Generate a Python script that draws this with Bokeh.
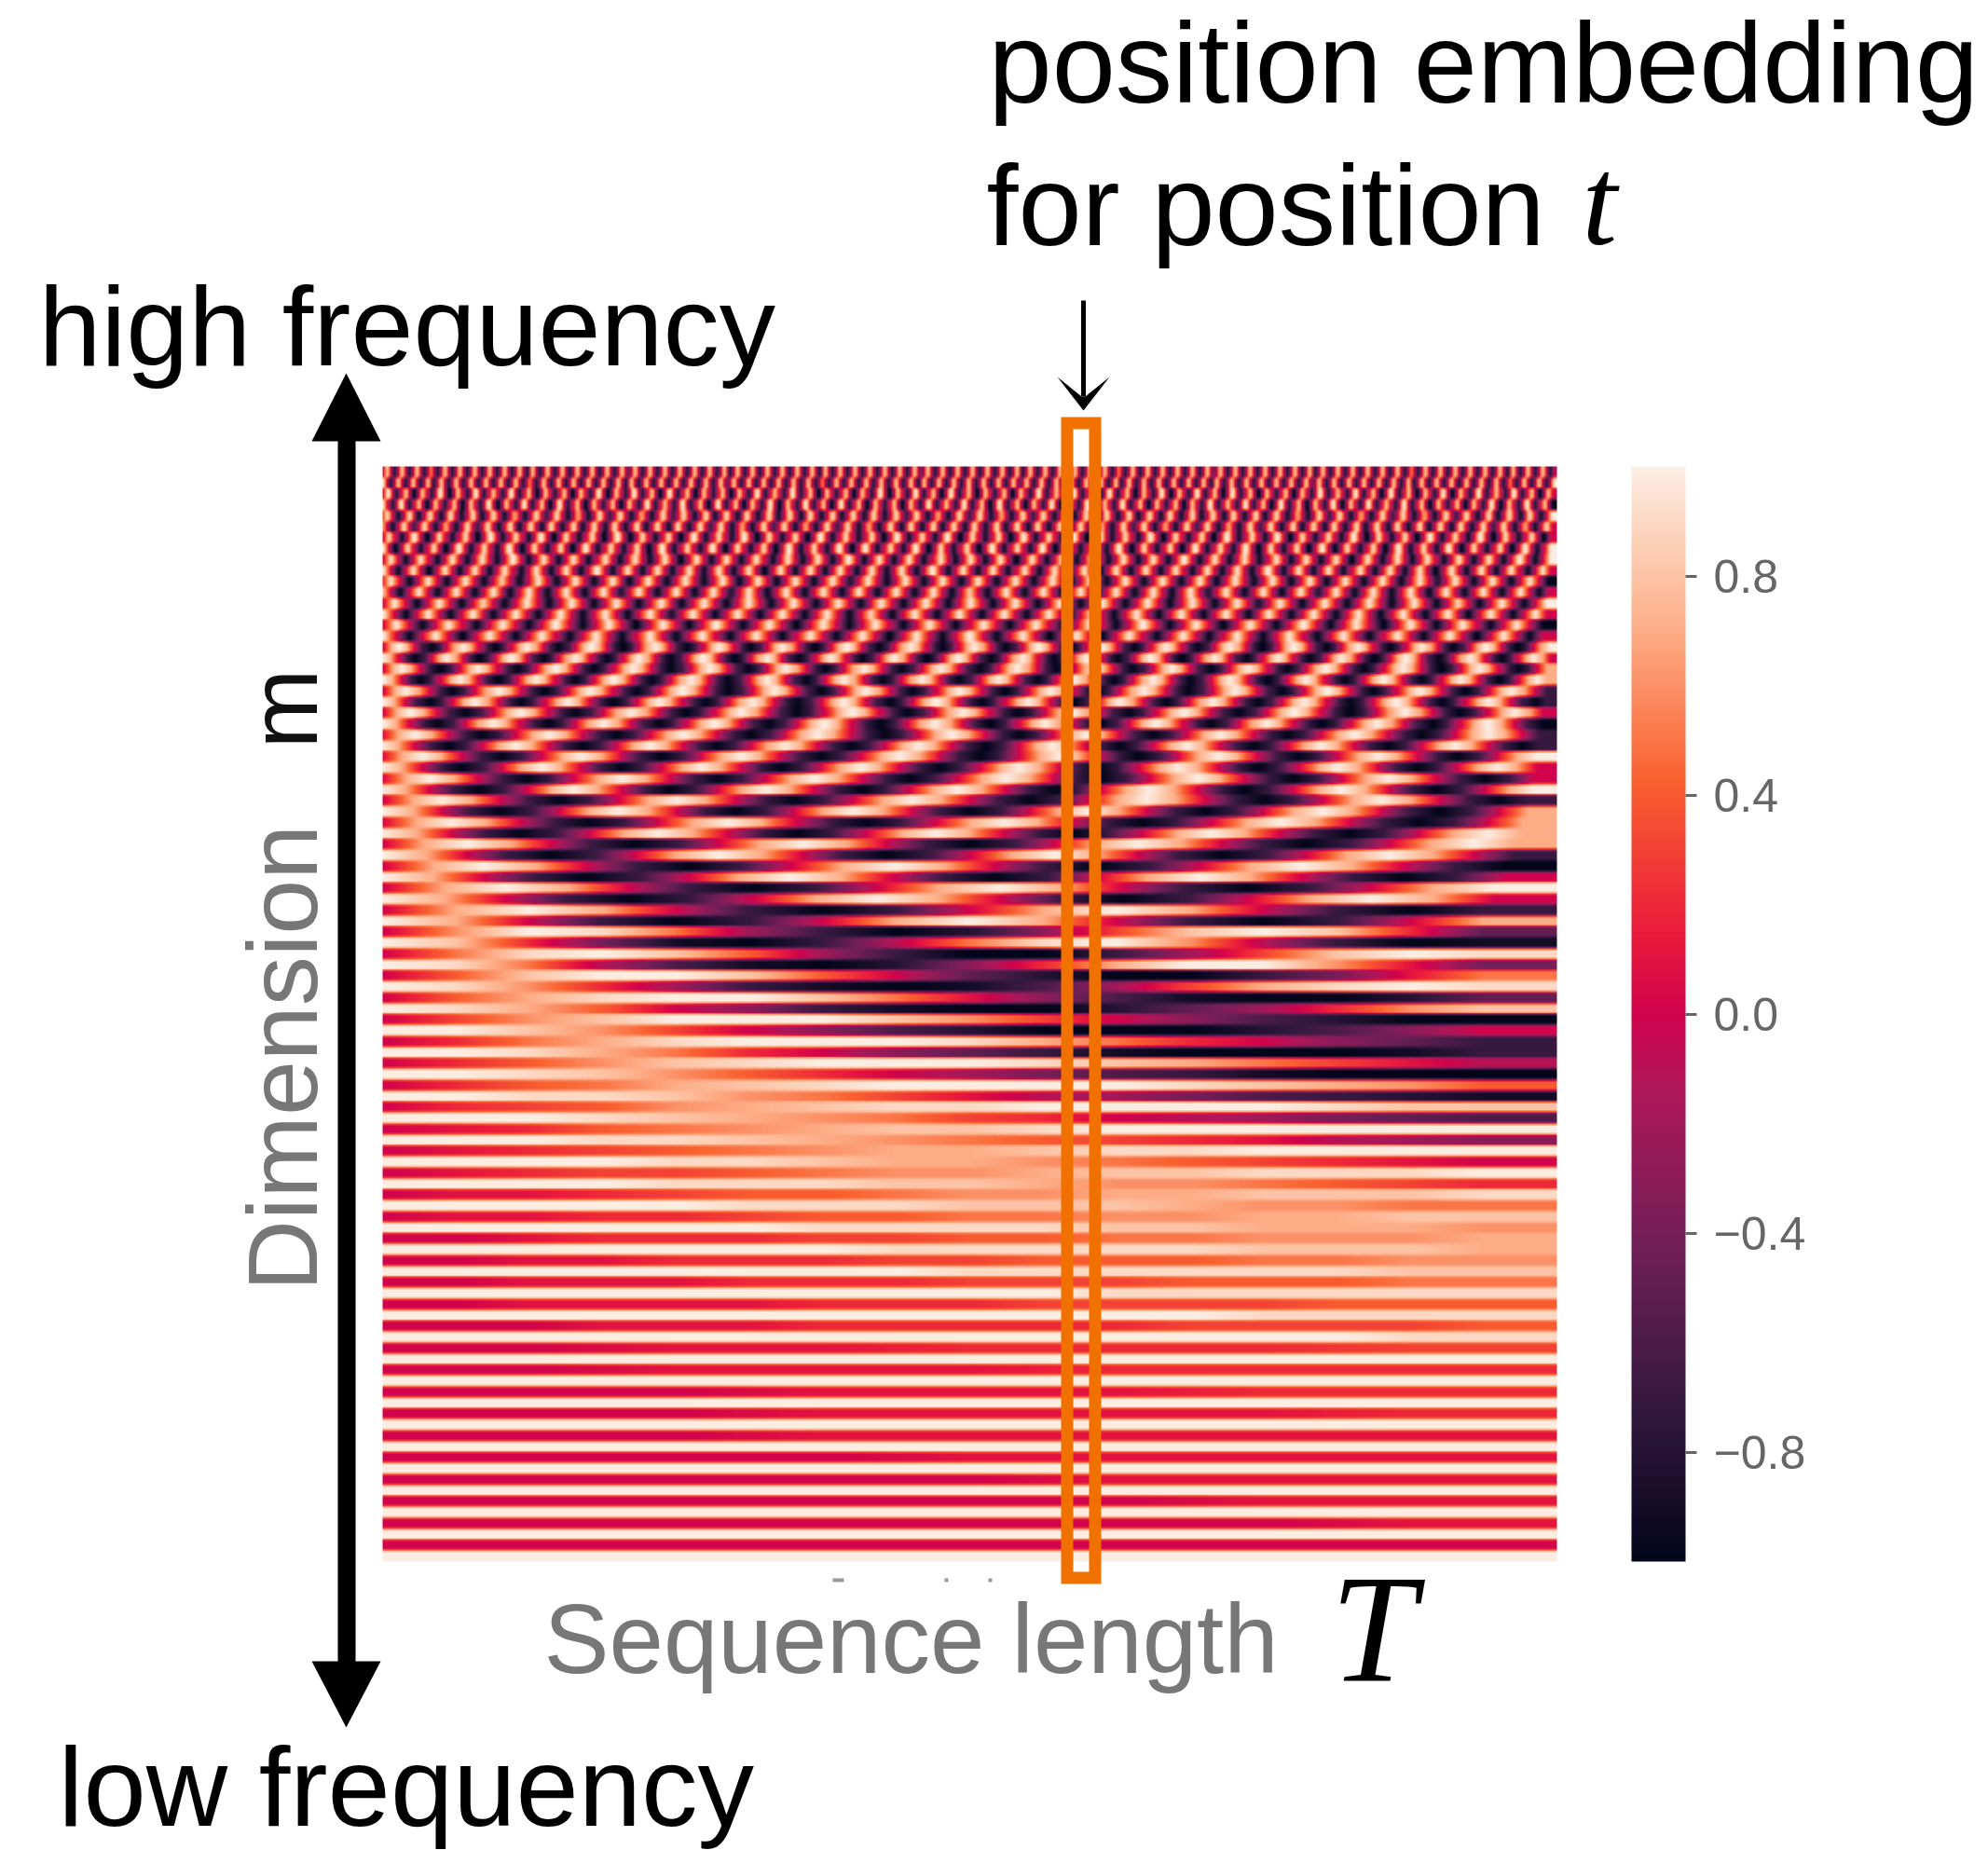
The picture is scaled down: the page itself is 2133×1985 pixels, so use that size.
import numpy as np
from bokeh.core.properties import value
from bokeh.embed import file_html
from bokeh.models import ColorBar, FixedTicker, LinearColorMapper, Range1d
from bokeh.plotting import figure
from bokeh.resources import INLINE

# Heatmap rows, top to bottom, typed by hand as an estimate of the picture.
# One character per cell, -1.0 ("0") to +1.0 ("k") in steps of 0.1; "a" is 0.0.
# Each row has as many cells as its pattern needs.
LEVELS = "0123456789abcdefghijk"

HIGH_ROWS = [
    ("aka0aka0aka0aka0aka0aka0aka0aka0aka0aka0" "aka0aka0aka0aka0aka0aka0aka0aka0aka0aka0"
     "aka0aka0aka0aka0aka0aka0aka0aka0aka0aka0" "aka0aka0aka0aka0aka0aka0aka0aka0aka0aka0"
     "aka0aka0aka0aka0aka0aka0aka0aka0aka0aka0" "aka0aka0aka0aka0aka0aka0aka0aka0aka0aka0"
     "aka0aka0aka0aka0aka0aka0aka0aka0aka0aka0" "aka0aka0aka0aka0aka0aka0aka0aka0aka0aka0" "a"),
    ("ka0aka0aka0aka0aka0aka0aka0aka0aka0aka0a" "ka0aka0aka0aka0aka0aka0aka0aka0aka0aka0a"
     "ka0aka0aka0aka0aka0aka0aka0aka0aka0aka0a" "ka0aka0aka0aka0aka0aka0aka0aka0aka0aka0a"
     "ka0aka0aka0aka0aka0aka0aka0aka0aka0aka0a" "ka0aka0aka0aka0aka0aka0aka0aka0aka0aka0a"
     "ka0aka0aka0aka0aka0aka0aka0aka0aka0aka0a" "ka0aka0aka0aka0aka0aka0aka0aka0aka0aka0a" "k"),
    ("aka0aka0aka0aka0aka0aka0aka0aka0aka0aka0" "aka0aka0aka0aka0aka0aka0aka0aka0aka0aka0"
     "aka0aka0aka0aka0aka0aka0aka0aka0aka0aka0" "aka0aka0aka0aka0aka0aka0aka0aka0aka0aka0"
     "aka0aka0aka0aka0aka0aka0aka0aka0aka0aka0" "aka0aka0aka0aka0aka0aka0aka0aka0aka0aka0"
     "aka0aka0aka0aka0aka0aka0" "aka"),
    ("ka0aka0aka0aka0aka0aka0aka0aka0aka0aka0a" "ka0aka0aka0aka0aka0aka0aka0aka0aka0aka0a"
     "ka0aka0aka0aka0aka0aka0aka0aka0aka0aka0a" "ka0aka0aka0aka0aka0aka0aka0aka0aka0aka0a"
     "ka0aka0aka0aka0aka0aka0aka0aka0aka0aka0a" "ka0aka0aka0aka0aka0aka0aka0aka0aka0aka0a"
     "ka0aka0aka0aka0aka0aka0a" "ka0"),
    ("aka0aka0aka0aka0aka0aka0aka0aka0aka0aka0" "aka0aka0aka0aka0aka0aka0aka0aka0aka0aka0"
     "aka0aka0aka0aka0aka0aka0aka0aka0aka0aka0" "aka0aka0aka0aka0aka0aka0aka0aka0aka0aka0"
     "aka0aka0aka0aka0aka0aka0aka0aka0aka0aka0" "aka0aka0aka0aka0aka0" "ak"),
    ("ka0aka0aka0aka0aka0aka0aka0aka0aka0aka0a" "ka0aka0aka0aka0aka0aka0aka0aka0aka0aka0a"
     "ka0aka0aka0aka0aka0aka0aka0aka0aka0aka0a" "ka0aka0aka0aka0aka0aka0aka0aka0aka0aka0a"
     "ka0aka0aka0aka0aka0aka0aka0aka0aka0aka0a" "ka0aka0aka0aka0aka0a" "ka"),
    ("aka0aka0aka0aka0aka0aka0aka0aka0aka0aka0" "aka0aka0aka0aka0aka0aka0aka0aka0aka0aka0"
     "aka0aka0aka0aka0aka0aka0aka0aka0aka0aka0" "aka0aka0aka0aka0aka0aka0aka0aka0aka0aka0"
     "aka0aka0aka0aka0aka0aka0" "a"),
    ("ka0aka0aka0aka0aka0aka0aka0aka0aka0aka0a" "ka0aka0aka0aka0aka0aka0aka0aka0aka0aka0a"
     "ka0aka0aka0aka0aka0aka0aka0aka0aka0aka0a" "ka0aka0aka0aka0aka0aka0aka0aka0aka0aka0a"
     "ka0aka0aka0aka0aka0aka0a" "k"),
    ("aka0aka0aka0aka0aka0aka0aka0aka0aka0aka0" "aka0aka0aka0aka0aka0aka0aka0aka0aka0aka0"
     "aka0aka0aka0aka0aka0aka0aka0aka0aka0aka0" "aka0aka0aka0aka0aka0aka0aka0aka0" "ak"),
    ("ka0aka0aka0aka0aka0aka0aka0aka0aka0aka0a" "ka0aka0aka0aka0aka0aka0aka0aka0aka0aka0a"
     "ka0aka0aka0aka0aka0aka0aka0aka0aka0aka0a" "ka0aka0aka0aka0aka0aka0aka0aka0a" "ka"),
    ("aka0aka0aka0aka0aka0aka0aka0aka0aka0aka0" "aka0aka0aka0aka0aka0aka0aka0aka0aka0aka0"
     "aka0aka0aka0aka0aka0aka0aka0aka0aka0aka0" "aka0aka0"),
    ("ka0aka0aka0aka0aka0aka0aka0aka0aka0aka0a" "ka0aka0aka0aka0aka0aka0aka0aka0aka0aka0a"
     "ka0aka0aka0aka0aka0aka0aka0aka0aka0aka0a" "ka0aka0a"),
    ("aka0aka0aka0aka0aka0aka0aka0aka0aka0aka0" "aka0aka0aka0aka0aka0aka0aka0aka0aka0aka0"
     "aka0aka0aka0aka0aka0aka0" "ak"),
    ("ka0aka0aka0aka0aka0aka0aka0aka0aka0aka0a" "ka0aka0aka0aka0aka0aka0aka0aka0aka0aka0a"
     "ka0aka0aka0aka0aka0aka0a" "ka"),
    ("aka0aka0aka0aka0aka0aka0aka0aka0aka0aka0" "aka0aka0aka0aka0aka0aka0aka0aka0aka0aka0" "aka0aka0"),
    ("ka0aka0aka0aka0aka0aka0aka0aka0aka0aka0a" "ka0aka0aka0aka0aka0aka0aka0aka0aka0aka0a" "ka0aka0a"),
]

MID_ROWS = [
    ("ahkha303ahkha303ahkha303ahkha303ahkha303ahkha303" "ahkha303ahkha303ahkha303ahkha303ahkha303ahkha303"
     "ahkha303ahkha303ahkha303ahkha303ahkha303ahkha303" "ahk"),
    ("kha303ahkha303ahkha303ahkha303ahkha303ahkha303ah" "kha303ahkha303ahkha303ahkha303ahkha303ahkha303ah"
     "kha303ahkha303ahkha303ahkha303ahkha303ahkha303ah" "kha"),
    ("ahkha303ahkha303ahkha303ahkha303ahkha303ahkha303" "ahkha303ahkha303ahkha303ahkha303ahkha303ahkha303"
     "ahkha303ahkha303ahkha303" "ah"),
    ("kha303ahkha303ahkha303ahkha303ahkha303ahkha303ah" "kha303ahkha303ahkha303ahkha303ahkha303ahkha303ah"
     "kha303ahkha303ahkha303ah" "kh"),
    ("ahkha303ahkha303ahkha303ahkha303ahkha303ahkha303" "ahkha303ahkha303ahkha303ahkha303ahkha303ahkha303" "ahkha3"),
    ("kha303ahkha303ahkha303ahkha303ahkha303ahkha303ah" "kha303ahkha303ahkha303ahkha303ahkha303ahkha303ah" "kha303"),
    ("ahkha303ahkha303ahkha303ahkha303ahkha303ahkha303" "ahkha303ahkha303ahkha303ahkha303" "ahkha"),
    ("kha303ahkha303ahkha303ahkha303ahkha303ahkha303ah" "kha303ahkha303ahkha303ahkha303ah" "kha30"),
    ("ahkha303ahkha303ahkha303ahkha303ahkha303ahkha303" "ahkha303ahkha303" "ahkha3"),
    ("kha303ahkha303ahkha303ahkha303ahkha303ahkha303ah" "kha303ahkha303ah" "kha303"),
    ("ahkha303ahkha303ahkha303ahkha303ahkha303ahkha303" "ahkha303" "ahk"),
    ("kha303ahkha303ahkha303ahkha303ahkha303ahkha303ah" "kha303ah" "kha"),
    "ahkha303ahkha303ahkha303ahkha303ahkha303ahkha303a",
    "kha303ahkha303ahkha303ahkha303ahkha303ahkha303ahk",
    "ahkha303ahkha303ahkha303ahkha303ahkha303",
    "kha303ahkha303ahkha303ahkha303ahkha303ah",
    "ahkha303ahkha303ahkha303ahkha303ah",
    "kha303ahkha303ahkha303ahkha303ahkh",
    "ahkha303ahkha303ahkha303ahkh",
    "kha303ahkha303ahkha303ahkha3",
    "ahkha303ahkha303ahkha30",
    "kha303ahkha303ahkha303a",
    "ahkha303ahkha303ahk",
    "kha303ahkha303ahkha",
    "ahkha303ahkha303",
    "kha303ahkha303ah",
]

LOW_ROWS = [
    "agkjf83027dikic5", "kic61039fjkg9301",
    "afjkie830038dikj", "kjf941027chkkgb6",
    "aeikkiea520036bf", "kjgc8310148dhjkj",
    "aehjkkifb7410025", "kjhea73100258cgi",
    "adgikkkigda74200", "kkigda742000247a",
    "acfhjkkkjhfca753", "kkjhfca753100013",
    "acegijkkkjihfdb9", "kkjigeca86431000",
    "acefhijkkkkjihge", "kkjjigfdb9864321",
    "acdeghijjkkkkjii", "kkkjihgfdca98654",
    "abcefghiijkkkkkk", "kkkjjihgfedcb987",
    "abcdefghhijjkkkk", "kkkkjjihhgfedcba",
    "abcddefgghiijjjk", "kkkkjjjiihggfedc",
    "abbcdeefgghhiiij", "kkkkkjjjiiihggff",
    "abbccdeeffgghhii", "kkkkkkjjjjiihhhg",
    "aabcccddeeffgggh", "kkkkkkkjjjjjiiih",
    "aabbcccddeeeffgg", "kkkkkkkkjjjjjjii",
    "aabbbcccdddeeeff", "kkkkkkkkkkjjjjjj",
    "aabbbbcccddddeee", "kkkkkkkkkkkkjjjj",
    "aaabbbcccccdddde", "kkkkkkkkkkkkkkjj",
    "aabbcccd", "kkkkkkkk",
    "aabbbccc", "kkkkkkkk",
    "aaabbbcc", "kkkkkkkk",
    "aaabbbbc", "kkkkkkkk",
    "aaabbbbb", "kkkkkkkk",
    "aaaabbbb", "kkkkkkkk",
    "aaaaabbb", "kkkkkkkk",
    "aaaaaabb", "kkkkkkkk",
    "aaaaaaab", "kkkkkkkk",
    "aaaaaaaa", "kkkkkkkk",
]

COLORBAR_TICKS = [-0.8, -0.4, 0.0, 0.4, 0.8]
COLORBAR_LABELS = ["\u22120.8", "\u22120.4", "0.0", "0.4", "0.8"]

ROWS = HIGH_ROWS + MID_ROWS + LOW_ROWS

# colour ramp
STOPS = [0.0, 0.143, 0.286, 0.429, 0.5, 0.571, 0.714, 0.857, 1.0]
STOP_COLORS = ["#03051A", "#35193E", "#701F57", "#AD1759", "#D0024C", "#EA1A3C", "#F9602F", "#FDB08A", "#FCEDE2"]
rgb = np.array([[int(c[i:i + 2], 16) for i in (1, 3, 5)] for c in STOP_COLORS], dtype=float)
ramp = np.linspace(0, 1, 256)
palette = ["#%02x%02x%02x" % tuple(int(round(np.interp(t, STOPS, rgb[:, j]))) for j in range(3)) for t in ramp]


def smooth(a, kernel, axis):
    k = np.asarray(kernel, dtype=float)
    k = k / k.sum()
    pad = len(k) // 2
    f = lambda v: np.convolve(np.pad(v, (pad, len(k) - 1 - pad), mode="edge"), k, mode="valid")
    return np.apply_along_axis(f, axis, a)


# Put the typed cells on a display grid. The smoothing only copies the blur of the reference.
COLS, SUB = 630, 6
grid = np.zeros((len(ROWS) * SUB, COLS), dtype=np.float32)
xs = (np.arange(COLS) + 0.5) / COLS
for r, row in enumerate(ROWS):
    vals = np.array([LEVELS.index(c) / 10 - 1 for c in row])
    idx = np.clip(np.floor(xs * len(vals) + 0.5).astype(int), 0, len(vals) - 1)
    line = vals[idx]
    w = int(round(COLS / len(vals)))
    if w > 1:
        line = smooth(line[None, :], np.ones(w), 1)[0]
    grid[r * SUB:(r + 1) * SUB] = line
grid = smooth(grid, [1, 2, 1], 1)
grid = smooth(grid, [1, 2, 1], 0)
grid = np.flipud(grid).astype(np.float32)

W, H = 2125, 1985


def Y(py):
    return 1985 - py


p = figure(width=W, height=H, output_backend="svg", toolbar_location=None,
           x_range=Range1d(0, W), y_range=Range1d(0, H), min_border=0)
p.axis.visible = False
p.grid.visible = False
p.outline_line_color = None

mapper = LinearColorMapper(palette=palette, low=-1, high=1)
p.image(image=[grid], x=410, y=Y(1675), dw=1260, dh=1175, color_mapper=mapper)

# orange marker around one column
p.quad(left=1144.5, right=1174.5, top=Y(453.5), bottom=Y(1692.5), fill_alpha=0,
       line_color="#F07000", line_width=13, line_join="miter")

# thick double arrow on the left
p.quad(left=362, right=381, top=Y(470), bottom=Y(1785), fill_color="black", line_color=None)
p.patch([334, 371, 408], [Y(473), Y(400), Y(473)], fill_color="black", line_color=None)
p.patch([334, 371, 408], [Y(1782), Y(1853), Y(1782)], fill_color="black", line_color=None)

# thin pointer arrow
p.quad(left=1159.5, right=1164.5, top=Y(322), bottom=Y(425), fill_color="black", line_color=None)
p.patch([1134, 1162, 1190, 1164, 1160], [Y(404), Y(440), Y(404), Y(425), Y(425)],
        fill_color="black", line_color=None)

# remains of tick marks under the heatmap
p.quad(left=[893, 1013, 1060], right=[905, 1017, 1064], top=[Y(1693)] * 3, bottom=[Y(1697)] * 3,
       fill_color="#999999", line_color=None)


def label(x, y, s, size, font="Liberation Sans", color="black", style="normal", angle=0.0):
    # the svg text sits about 0.35 em below the requested baseline
    drop = 0.35 * size
    if angle:
        x -= drop
    else:
        y -= drop
    p.text(x=[x], y=[Y(y)], text=[s], text_font=value(font), text_font_size=value(f"{size}px"),
           text_color=color, text_font_style=style, text_baseline="alphabetic", text_align="left",
           angle=angle)


label(1060, 110, "position embedding", 122.5)
label(1058, 263, "for position", 122.5)
label(1697, 263, "t", 135, font="Liberation Serif", style="italic")
label(41, 392, "high frequency", 120.5)
label(62, 1959, "low frequency", 121)
label(340, 1385, "Dimension", 106, color="#777777", angle=np.pi / 2)
label(340, 803, "m", 103, color="#111111", angle=np.pi / 2)
label(583, 1795, "Sequence length", 105, color="#777777")
label(1427, 1805, "T", 165, font="Liberation Serif", style="italic")

bar = ColorBar(color_mapper=mapper, location=(1750, H - 1675), width=58, height=1175,
               padding=0, margin=0, bar_line_color=None, border_line_color=None, background_fill_color=None,
               ticker=FixedTicker(ticks=COLORBAR_TICKS),
               major_label_overrides=dict(zip(COLORBAR_TICKS, COLORBAR_LABELS)),
               major_label_text_font="Liberation Sans", major_label_text_font_size="50px",
               major_label_text_color="#666666", major_tick_in=0, major_tick_out=12,
               major_tick_line_color="#666666", major_tick_line_width=3, minor_tick_line_color=None,
               label_standoff=18)
p.add_layout(bar, "center")

open("out.html", "w").write(file_html(p, INLINE))
